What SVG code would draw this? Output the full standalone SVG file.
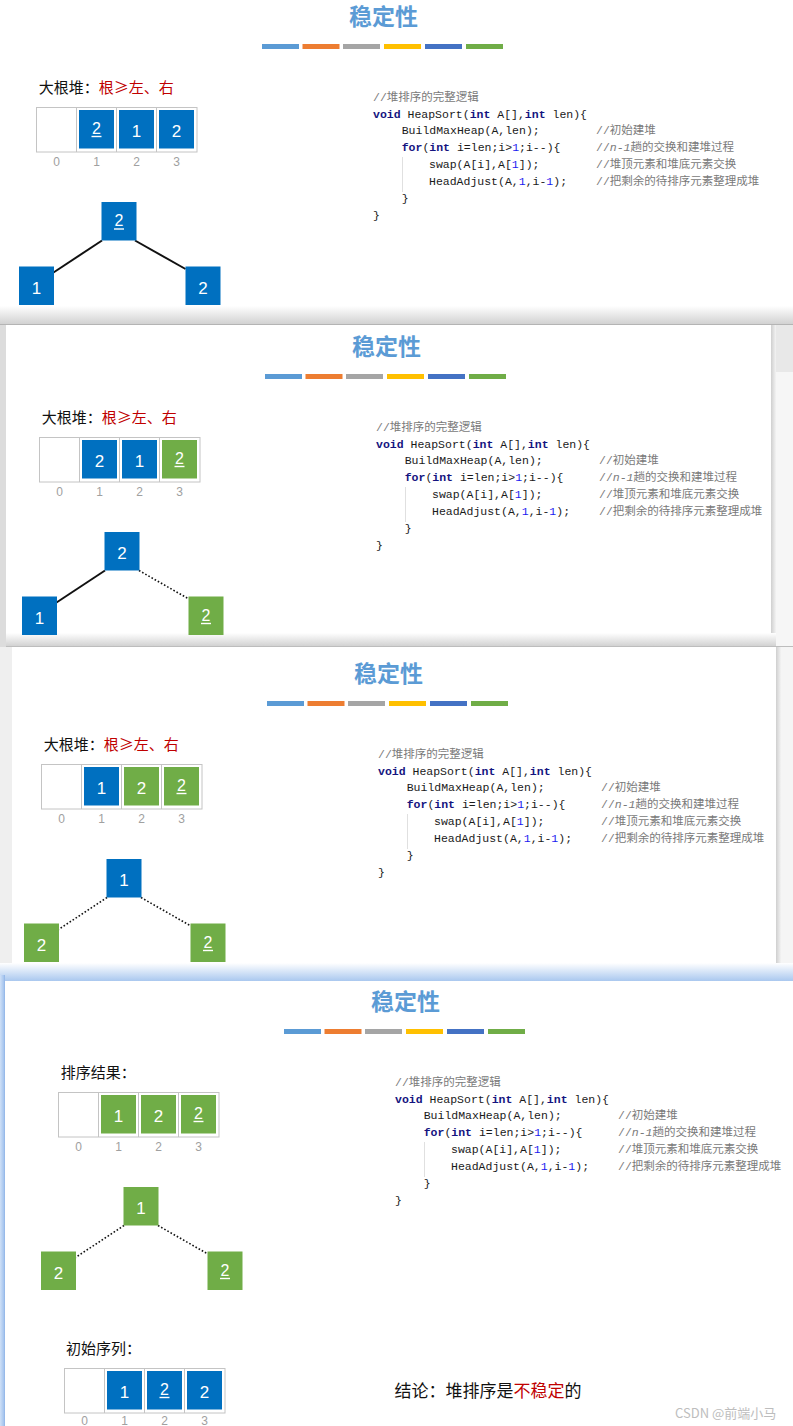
<svg xmlns="http://www.w3.org/2000/svg" width="793" height="1426" viewBox="0 0 793 1426">
<defs>
<style>
.ttl{font-family:"Noto Sans CJK SC",sans-serif;font-weight:bold;font-size:23px;fill:#5B9BD5;text-anchor:middle}
.lbl{font-family:"Noto Sans CJK SC",sans-serif;font-size:15px;fill:#111}
.red{fill:#C00000}
.idx{font-family:"Liberation Sans",Arial,sans-serif;font-size:12px;fill:#a0a0a0;text-anchor:middle}
.num{font-family:"Liberation Sans",Arial,sans-serif;font-size:17px;fill:#fff;text-anchor:middle}
.unum{font-family:"Liberation Sans",Arial,sans-serif;font-size:16px;fill:#fff;text-anchor:middle}
.ul{stroke:#fff;stroke-width:1.4}
.code{font-family:"Liberation Mono","Noto Sans CJK SC",monospace;font-size:11.5px;fill:#1a1a1a}
.kw{fill:#14147f;font-weight:bold}
.n{fill:#1a1af0}
.cm{fill:#7a7a7a}
.blue{fill:#0070C0}
.green{fill:#70AD47}
.cell{fill:#fff;stroke:#c4c4c4;stroke-width:1}
.div{stroke:#c4c4c4;stroke-width:1}
.edge{stroke:#111;stroke-width:2;fill:none}
.dot{stroke:#111;stroke-width:1.6;stroke-dasharray:1.6 2;fill:none}
.guide{stroke:#e0e0e0;stroke-width:1}
</style>
<linearGradient id="shB" x1="0" y1="0" x2="0" y2="1"><stop offset="0" stop-color="#ffffff"/><stop offset="1" stop-color="#d2d2d2"/></linearGradient>
<linearGradient id="shR" x1="0" y1="0" x2="1" y2="0"><stop offset="0" stop-color="#cfcfcf"/><stop offset="1" stop-color="#f3f3f3"/></linearGradient>
<linearGradient id="blueB" x1="0" y1="0" x2="0" y2="1"><stop offset="0" stop-color="#ffffff"/><stop offset="1" stop-color="#aac8ef"/></linearGradient>
<linearGradient id="blueL" x1="0" y1="0" x2="1" y2="0"><stop offset="0" stop-color="#cfe0f7"/><stop offset="0.7" stop-color="#a9c7ef"/><stop offset="1" stop-color="#8fb3e6"/></linearGradient>
</defs>

<g id="frames">
<rect x="0" y="0" width="793" height="1426" fill="#efefef"/>
<rect x="0" y="0" width="793" height="322" fill="#fff"/>
<rect x="0" y="306" width="793" height="18" fill="url(#shB)"/>
<line x1="0" y1="324.5" x2="793" y2="324.5" stroke="#b4b4b4"/>
<rect x="0" y="325" width="6" height="322" fill="#dcdcdc"/>
<rect x="771" y="325" width="22" height="322" fill="#f6f6f6"/>
<rect x="771" y="325" width="22" height="47" fill="#e8e8e8"/>
<rect x="6" y="325" width="765" height="321" fill="#fff"/>
<rect x="771" y="325" width="5" height="322" fill="url(#shR)"/>
<rect x="6" y="633" width="770" height="13" fill="url(#shB)"/>
<line x1="6" y1="646.5" x2="793" y2="646.5" stroke="#bdbdbd"/>
<rect x="0" y="647" width="12" height="328" fill="#efefef"/>
<rect x="776" y="647" width="17" height="328" fill="#f5f5f5"/>
<rect x="12" y="647" width="764" height="320" fill="#fff"/>
<rect x="776" y="647" width="5" height="328" fill="url(#shR)"/>
<rect x="0" y="963" width="793" height="18" fill="url(#blueB)"/>
<rect x="0" y="981" width="793" height="445" fill="#fff"/>
<rect x="0" y="975" width="5" height="451" fill="url(#blueL)"/>
</g>

<!-- ================= Slide 1 ================= -->
<g id="slide1">
<text class="ttl" x="383.5" y="25">稳定性</text>
<g id="s1-bar">
<rect x="262" y="44" width="37" height="5" fill="#5B9BD5"/>
<rect x="302.5" y="44" width="37" height="5" fill="#ED7D31"/>
<rect x="343" y="44" width="37" height="5" fill="#A5A5A5"/>
<rect x="384" y="44" width="37" height="5" fill="#FFC000"/>
<rect x="425" y="44" width="37" height="5" fill="#4472C4"/>
<rect x="466" y="44" width="37" height="5" fill="#70AD47"/>
</g>
<text class="lbl" x="38.7" y="92.5">大根堆：<tspan class="red">根≥左、右</tspan></text>
<g id="s1-array">
<rect class="cell" x="36.5" y="107.5" width="160.5" height="44.5"/>
<line class="div" x1="76.5" y1="107.5" x2="76.5" y2="152"/>
<line class="div" x1="116.5" y1="107.5" x2="116.5" y2="152"/>
<line class="div" x1="156.5" y1="107.5" x2="156.5" y2="152"/>
<rect class="blue" x="79" y="110" width="35" height="38.5"/>
<text class="unum" x="96.5" y="134">2</text><line class="ul" x1="91.5" y1="136.5" x2="101.5" y2="136.5"/>
<rect class="blue" x="119" y="110" width="35" height="38.5"/>
<text class="num" x="136.5" y="136.5">1</text>
<rect class="blue" x="159" y="110" width="35" height="38.5"/>
<text class="num" x="176.5" y="136.5">2</text>
<text class="idx" x="56.5" y="166">0</text><text class="idx" x="96.5" y="166">1</text><text class="idx" x="136.5" y="166">2</text><text class="idx" x="176.5" y="166">3</text>
</g>
<g id="s1-edges">
<line class="edge" x1="102" y1="240.5" x2="53.5" y2="272.5"/>
<line class="edge" x1="135" y1="240.5" x2="185.5" y2="269"/>
</g>
<g id="s1-root"><rect class="blue" x="101.5" y="202" width="35" height="38.5"/><text class="unum" x="119" y="226">2</text><line class="ul" x1="114" y1="229" x2="124" y2="229"/></g>
<g id="s1-left"><rect class="blue" x="19" y="266.5" width="35" height="38.5"/><text class="num" x="36.5" y="293.5">1</text></g>
<g id="s1-right"><rect class="blue" x="185.5" y="266.5" width="35" height="38.5"/><text class="num" x="203" y="293.5">2</text></g>
<g id="s1-code">
<line class="guide" x1="402.5" y1="157" x2="402.5" y2="192"/>
<text class="code cm" x="373" y="101">//堆排序的完整逻辑</text>
<text class="code" x="373" y="117.5"><tspan class="kw">void</tspan> HeapSort(<tspan class="kw">int</tspan> A[],<tspan class="kw">int</tspan> len){</text>
<text class="code" x="401.7" y="134.3">BuildMaxHeap(A,len);</text>
<text class="code cm" x="596" y="134.3">//初始建堆</text>
<text class="code" x="401.7" y="151"><tspan class="kw">for</tspan>(<tspan class="kw">int</tspan> i=len;i&gt;<tspan class="n">1</tspan>;i--){</text>
<text class="code cm" x="596" y="151">//<tspan font-style="italic">n-1</tspan>趟的交换和建堆过程</text>
<text class="code" x="429" y="168">swap(A[i],A[<tspan class="n">1</tspan>]);</text>
<text class="code cm" x="596" y="168">//堆顶元素和堆底元素交换</text>
<text class="code" x="429" y="185">HeadAdjust(A,<tspan class="n">1</tspan>,i-<tspan class="n">1</tspan>);</text>
<text class="code cm" x="596" y="185">//把剩余的待排序元素整理成堆</text>
<text class="code" x="401.7" y="202">}</text>
<text class="code" x="373" y="218.5">}</text>
</g>
</g>

<!-- ================= Slide 2 ================= -->
<g id="slide2" transform="translate(3,330)">
<text class="ttl" x="383.5" y="25">稳定性</text>
<g id="s2-bar">
<rect x="262" y="44" width="37" height="5" fill="#5B9BD5"/>
<rect x="302.5" y="44" width="37" height="5" fill="#ED7D31"/>
<rect x="343" y="44" width="37" height="5" fill="#A5A5A5"/>
<rect x="384" y="44" width="37" height="5" fill="#FFC000"/>
<rect x="425" y="44" width="37" height="5" fill="#4472C4"/>
<rect x="466" y="44" width="37" height="5" fill="#70AD47"/>
</g>
<text class="lbl" x="38.7" y="92.5">大根堆：<tspan class="red">根≥左、右</tspan></text>
<g id="s2-array">
<rect class="cell" x="36.5" y="107.5" width="160.5" height="44.5"/>
<line class="div" x1="76.5" y1="107.5" x2="76.5" y2="152"/>
<line class="div" x1="116.5" y1="107.5" x2="116.5" y2="152"/>
<line class="div" x1="156.5" y1="107.5" x2="156.5" y2="152"/>
<rect class="blue" x="79" y="110" width="35" height="38.5"/>
<text class="num" x="96.5" y="136.5">2</text>
<rect class="blue" x="119" y="110" width="35" height="38.5"/>
<text class="num" x="136.5" y="136.5">1</text>
<rect class="green" x="159" y="110" width="35" height="38.5"/>
<text class="unum" x="176.5" y="134">2</text><line class="ul" x1="171.5" y1="136.5" x2="181.5" y2="136.5"/>
<text class="idx" x="56.5" y="166">0</text><text class="idx" x="96.5" y="166">1</text><text class="idx" x="136.5" y="166">2</text><text class="idx" x="176.5" y="166">3</text>
</g>
<g id="s2-edges">
<line class="edge" x1="102" y1="240.5" x2="53.5" y2="272.5"/>
<line class="dot" x1="136" y1="240.5" x2="185" y2="268.5"/>
</g>
<g id="s2-root"><rect class="blue" x="101.5" y="202" width="35" height="38.5"/><text class="num" x="119" y="229">2</text></g>
<g id="s2-left"><rect class="blue" x="19" y="266.5" width="35" height="38.5"/><text class="num" x="36.5" y="293.5">1</text></g>
<g id="s2-right"><rect class="green" x="185.5" y="266.5" width="35" height="38.5"/><text class="unum" x="203" y="290.5">2</text><line class="ul" x1="198" y1="293.5" x2="208" y2="293.5"/></g>
<g id="s2-code">
<line class="guide" x1="402.5" y1="157" x2="402.5" y2="192"/>
<text class="code cm" x="373" y="101">//堆排序的完整逻辑</text>
<text class="code" x="373" y="117.5"><tspan class="kw">void</tspan> HeapSort(<tspan class="kw">int</tspan> A[],<tspan class="kw">int</tspan> len){</text>
<text class="code" x="401.7" y="134.3">BuildMaxHeap(A,len);</text>
<text class="code cm" x="596" y="134.3">//初始建堆</text>
<text class="code" x="401.7" y="151"><tspan class="kw">for</tspan>(<tspan class="kw">int</tspan> i=len;i&gt;<tspan class="n">1</tspan>;i--){</text>
<text class="code cm" x="596" y="151">//<tspan font-style="italic">n-1</tspan>趟的交换和建堆过程</text>
<text class="code" x="429" y="168">swap(A[i],A[<tspan class="n">1</tspan>]);</text>
<text class="code cm" x="596" y="168">//堆顶元素和堆底元素交换</text>
<text class="code" x="429" y="185">HeadAdjust(A,<tspan class="n">1</tspan>,i-<tspan class="n">1</tspan>);</text>
<text class="code cm" x="596" y="185">//把剩余的待排序元素整理成堆</text>
<text class="code" x="401.7" y="202">}</text>
<text class="code" x="373" y="218.5">}</text>
</g>
</g>

<!-- ================= Slide 3 ================= -->
<g id="slide3" transform="translate(5,657)">
<text class="ttl" x="383.5" y="25">稳定性</text>
<g id="s3-bar">
<rect x="262" y="44" width="37" height="5" fill="#5B9BD5"/>
<rect x="302.5" y="44" width="37" height="5" fill="#ED7D31"/>
<rect x="343" y="44" width="37" height="5" fill="#A5A5A5"/>
<rect x="384" y="44" width="37" height="5" fill="#FFC000"/>
<rect x="425" y="44" width="37" height="5" fill="#4472C4"/>
<rect x="466" y="44" width="37" height="5" fill="#70AD47"/>
</g>
<text class="lbl" x="38.7" y="92.5">大根堆：<tspan class="red">根≥左、右</tspan></text>
<g id="s3-array">
<rect class="cell" x="36.5" y="107.5" width="160.5" height="44.5"/>
<line class="div" x1="76.5" y1="107.5" x2="76.5" y2="152"/>
<line class="div" x1="116.5" y1="107.5" x2="116.5" y2="152"/>
<line class="div" x1="156.5" y1="107.5" x2="156.5" y2="152"/>
<rect class="blue" x="79" y="110" width="35" height="38.5"/>
<text class="num" x="96.5" y="136.5">1</text>
<rect class="green" x="119" y="110" width="35" height="38.5"/>
<text class="num" x="136.5" y="136.5">2</text>
<rect class="green" x="159" y="110" width="35" height="38.5"/>
<text class="unum" x="176.5" y="134">2</text><line class="ul" x1="171.5" y1="136.5" x2="181.5" y2="136.5"/>
<text class="idx" x="56.5" y="166">0</text><text class="idx" x="96.5" y="166">1</text><text class="idx" x="136.5" y="166">2</text><text class="idx" x="176.5" y="166">3</text>
</g>
<g id="s3-edges">
<line class="dot" x1="102" y1="240.5" x2="53.5" y2="272.5"/>
<line class="dot" x1="136" y1="240.5" x2="185" y2="268.5"/>
</g>
<g id="s3-root"><rect class="blue" x="101.5" y="202" width="35" height="38.5"/><text class="num" x="119" y="229">1</text></g>
<g id="s3-left"><rect class="green" x="19" y="266.5" width="35" height="38.5"/><text class="num" x="36.5" y="293.5">2</text></g>
<g id="s3-right"><rect class="green" x="185.5" y="266.5" width="35" height="38.5"/><text class="unum" x="203" y="290.5">2</text><line class="ul" x1="198" y1="293.5" x2="208" y2="293.5"/></g>
<g id="s3-code">
<line class="guide" x1="402.5" y1="157" x2="402.5" y2="192"/>
<text class="code cm" x="373" y="101">//堆排序的完整逻辑</text>
<text class="code" x="373" y="117.5"><tspan class="kw">void</tspan> HeapSort(<tspan class="kw">int</tspan> A[],<tspan class="kw">int</tspan> len){</text>
<text class="code" x="401.7" y="134.3">BuildMaxHeap(A,len);</text>
<text class="code cm" x="596" y="134.3">//初始建堆</text>
<text class="code" x="401.7" y="151"><tspan class="kw">for</tspan>(<tspan class="kw">int</tspan> i=len;i&gt;<tspan class="n">1</tspan>;i--){</text>
<text class="code cm" x="596" y="151">//<tspan font-style="italic">n-1</tspan>趟的交换和建堆过程</text>
<text class="code" x="429" y="168">swap(A[i],A[<tspan class="n">1</tspan>]);</text>
<text class="code cm" x="596" y="168">//堆顶元素和堆底元素交换</text>
<text class="code" x="429" y="185">HeadAdjust(A,<tspan class="n">1</tspan>,i-<tspan class="n">1</tspan>);</text>
<text class="code cm" x="596" y="185">//把剩余的待排序元素整理成堆</text>
<text class="code" x="401.7" y="202">}</text>
<text class="code" x="373" y="218.5">}</text>
</g>
</g>

<!-- ================= Slide 4 ================= -->
<g id="slide4" transform="translate(22,985)">
<text class="ttl" x="383.5" y="25">稳定性</text>
<g id="s4-bar">
<rect x="262" y="44" width="37" height="5" fill="#5B9BD5"/>
<rect x="302.5" y="44" width="37" height="5" fill="#ED7D31"/>
<rect x="343" y="44" width="37" height="5" fill="#A5A5A5"/>
<rect x="384" y="44" width="37" height="5" fill="#FFC000"/>
<rect x="425" y="44" width="37" height="5" fill="#4472C4"/>
<rect x="466" y="44" width="37" height="5" fill="#70AD47"/>
</g>
<text class="lbl" x="38.7" y="92.5">排序结果：</text>
<g id="s4-array">
<rect class="cell" x="36.5" y="107.5" width="160.5" height="44.5"/>
<line class="div" x1="76.5" y1="107.5" x2="76.5" y2="152"/>
<line class="div" x1="116.5" y1="107.5" x2="116.5" y2="152"/>
<line class="div" x1="156.5" y1="107.5" x2="156.5" y2="152"/>
<rect class="green" x="79" y="110" width="35" height="38.5"/>
<text class="num" x="96.5" y="136.5">1</text>
<rect class="green" x="119" y="110" width="35" height="38.5"/>
<text class="num" x="136.5" y="136.5">2</text>
<rect class="green" x="159" y="110" width="35" height="38.5"/>
<text class="unum" x="176.5" y="134">2</text><line class="ul" x1="171.5" y1="136.5" x2="181.5" y2="136.5"/>
<text class="idx" x="56.5" y="166">0</text><text class="idx" x="96.5" y="166">1</text><text class="idx" x="136.5" y="166">2</text><text class="idx" x="176.5" y="166">3</text>
</g>
<g id="s4-edges">
<line class="dot" x1="102" y1="240.5" x2="53.5" y2="272.5"/>
<line class="dot" x1="136" y1="240.5" x2="185" y2="268.5"/>
</g>
<g id="s4-root"><rect class="green" x="101.5" y="202" width="35" height="38.5"/><text class="num" x="119" y="229">1</text></g>
<g id="s4-left"><rect class="green" x="19" y="266.5" width="35" height="38.5"/><text class="num" x="36.5" y="293.5">2</text></g>
<g id="s4-right"><rect class="green" x="185.5" y="266.5" width="35" height="38.5"/><text class="unum" x="203" y="290.5">2</text><line class="ul" x1="198" y1="293.5" x2="208" y2="293.5"/></g>
<g id="s4-code">
<line class="guide" x1="402.5" y1="157" x2="402.5" y2="192"/>
<text class="code cm" x="373" y="101">//堆排序的完整逻辑</text>
<text class="code" x="373" y="117.5"><tspan class="kw">void</tspan> HeapSort(<tspan class="kw">int</tspan> A[],<tspan class="kw">int</tspan> len){</text>
<text class="code" x="401.7" y="134.3">BuildMaxHeap(A,len);</text>
<text class="code cm" x="596" y="134.3">//初始建堆</text>
<text class="code" x="401.7" y="151"><tspan class="kw">for</tspan>(<tspan class="kw">int</tspan> i=len;i&gt;<tspan class="n">1</tspan>;i--){</text>
<text class="code cm" x="596" y="151">//<tspan font-style="italic">n-1</tspan>趟的交换和建堆过程</text>
<text class="code" x="429" y="168">swap(A[i],A[<tspan class="n">1</tspan>]);</text>
<text class="code cm" x="596" y="168">//堆顶元素和堆底元素交换</text>
<text class="code" x="429" y="185">HeadAdjust(A,<tspan class="n">1</tspan>,i-<tspan class="n">1</tspan>);</text>
<text class="code cm" x="596" y="185">//把剩余的待排序元素整理成堆</text>
<text class="code" x="401.7" y="202">}</text>
<text class="code" x="373" y="218.5">}</text>
</g>
</g>

<g id="s4-initial">
<text class="lbl" x="66" y="1354">初始序列：</text>
<g id="s4-init-array" transform="translate(28,1261)">
<rect class="cell" x="36.5" y="107.5" width="160.5" height="44.5"/>
<line class="div" x1="76.5" y1="107.5" x2="76.5" y2="152"/>
<line class="div" x1="116.5" y1="107.5" x2="116.5" y2="152"/>
<line class="div" x1="156.5" y1="107.5" x2="156.5" y2="152"/>
<rect class="blue" x="79" y="110" width="35" height="38.5"/>
<text class="num" x="96.5" y="136.5">1</text>
<rect class="blue" x="119" y="110" width="35" height="38.5"/>
<text class="unum" x="136.5" y="134">2</text><line class="ul" x1="131.5" y1="136.5" x2="141.5" y2="136.5"/>
<rect class="blue" x="159" y="110" width="35" height="38.5"/>
<text class="num" x="176.5" y="136.5">2</text>
<text class="idx" x="56.5" y="163.5" font-size="11">0</text><text class="idx" x="96.5" y="163.5" font-size="11">1</text><text class="idx" x="136.5" y="163.5" font-size="11">2</text><text class="idx" x="176.5" y="163.5" font-size="11">3</text>
</g>
<text x="394.5" y="1397" font-family="Noto Sans CJK SC, sans-serif" font-size="17" fill="#111">结论：堆排序是<tspan class="red">不稳定</tspan>的</text>
<text x="675" y="1418" font-family="Noto Sans CJK SC, sans-serif" font-size="13" fill="#bdbdbd">CSDN @前端小马</text>
</g>
</svg>
